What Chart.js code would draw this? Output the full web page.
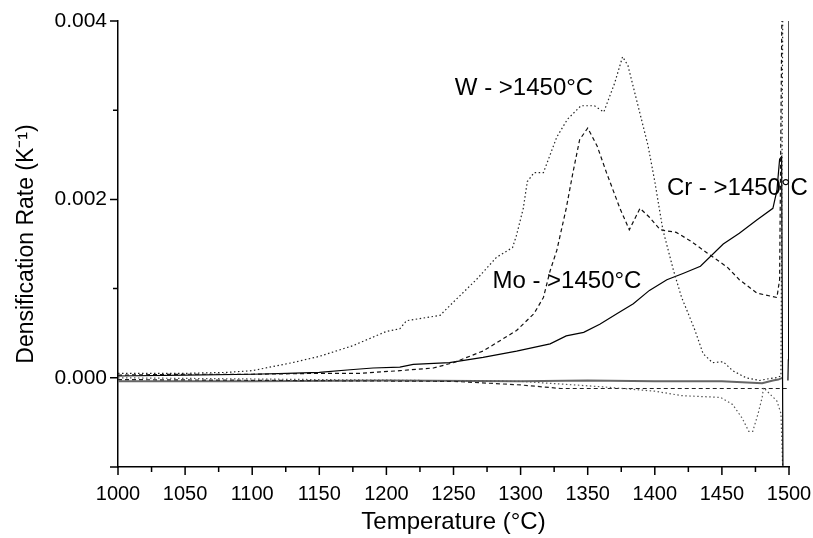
<!DOCTYPE html>
<html>
<head>
<meta charset="utf-8">
<script src="https://cdn.jsdelivr.net/npm/chart.js@4.4.1/dist/chart.umd.min.js"></script>
<style>
  html, body { margin: 0; padding: 0; background: #fff; }
  #wrap { width: 813px; height: 538px; }
</style>
</head>
<body>
<div id="wrap"><canvas id="myChart" width="813" height="538"></canvas></div>
<script>
// axis ticks
const xMajor = [1000, 1050, 1100, 1150, 1200, 1250, 1300, 1350, 1400, 1450, 1500];
const xMinor = [1025, 1075, 1125, 1175, 1225, 1275, 1325, 1375, 1425, 1475];
const yMajor = [-0.001, 0.000, 0.002, 0.004];
const yMinor = [0.001, 0.003];
const yLabelled = [0.000, 0.002, 0.004];

// W - heating curve (dotted)
const wTemp = [1000, 1020, 1050, 1080, 1100, 1130, 1150, 1175, 1200, 1210, 1215, 1240, 1250, 1267, 1282, 1294, 1297,
  1302, 1305, 1310, 1317, 1322, 1327, 1335, 1345, 1355, 1362, 1370, 1376, 1380, 1385, 1390, 1395, 1400, 1406,
  1414, 1420, 1426, 1430, 1436, 1443, 1451, 1458, 1468, 1478, 1485, 1490, 1494, 1495.5];
const wRate = [0.00005, 0.00005, 0.00005, 0.00006, 0.00008, 0.00017, 0.00024, 0.00036, 0.00052, 0.00055, 0.00064,
  0.0007, 0.00085, 0.0011, 0.00135, 0.00146, 0.0016, 0.0019, 0.0022, 0.0023, 0.0023, 0.0025, 0.0027, 0.0029,
  0.00305, 0.00305, 0.00298, 0.0033, 0.0036, 0.0035, 0.0032, 0.0029, 0.0026, 0.0022, 0.00166, 0.0012, 0.0009,
  0.00068, 0.00053, 0.00027, 0.00017, 0.00018, 0.00008, 0.0, -0.00003, -0.00001, 0.0, 0.00002, 0.0046];

// Mo - heating curve (dashed)
const moTemp = [1000, 1050, 1100, 1150, 1180, 1210, 1235, 1250, 1272, 1297, 1310, 1317, 1322, 1327, 1334, 1339, 1344,
  1350, 1357, 1364, 1374, 1381, 1389, 1396, 1404, 1416, 1426, 1439, 1454, 1463, 1476, 1491, 1493, 1495];
const moRate = [0.00003, 0.00004, 0.00004, 0.00005, 0.00005, 0.00008, 0.00011, 0.00017, 0.0003, 0.00053, 0.00072,
  0.0009, 0.0012, 0.00143, 0.0019, 0.0023, 0.00267, 0.0028, 0.0026, 0.0023, 0.0019, 0.00166, 0.0019, 0.0018,
  0.00166, 0.00163, 0.00154, 0.0014, 0.00124, 0.0011, 0.00095, 0.0009, 0.0011, 0.0046];

// Cr - heating curve (solid)
const crTemp = [1000, 1050, 1100, 1126, 1150, 1173, 1190, 1210, 1220, 1247, 1272, 1297, 1322, 1334, 1347, 1359, 1372,
  1384, 1396, 1409, 1421, 1434, 1451, 1463, 1476, 1488, 1491, 1493, 1494.5, 1495.5, 1497, 1499.2, 1499.5, 1499.7, 1500];
const crRate = [0.00002, 0.00003, 0.00004, 0.00005, 0.00006, 0.00009, 0.00011, 0.00012, 0.00015, 0.00017, 0.00023,
  0.0003, 0.00038, 0.00047, 0.00051, 0.0006, 0.00072, 0.00083, 0.00098, 0.0011, 0.00117, 0.00125, 0.0015, 0.00162,
  0.00177, 0.0019, 0.0021, 0.00245, 0.00248, -0.0011, null, -0.00003, 0.0002, 0.0004, 0.0046];

// near-zero curves
const w2Temp = [1000, 1150, 1300, 1340, 1360, 1400, 1420, 1449, 1458, 1465, 1470, 1473, 1477, 1480, 1481, 1485, 1491, 1494, 1495.5];
const w2Rate = [0.0, -0.00002, -0.00004, -0.00008, -0.0001, -0.00015, -0.0002, -0.00022, -0.0003, -0.00045, -0.0006,
  -0.0006, -0.0004, -0.00022, -0.00011, -0.00017, -0.00026, -0.0004, -0.0011];

const mo2Temp = [1000, 1250, 1300, 1330, 1480, 1500];
const mo2Rate = [-0.00002, -0.00004, -0.00008, -0.00012, -0.00012, -0.00012];

const cr2Temp = [1000, 1100, 1200, 1300, 1350, 1400, 1450, 1480, 1488, 1492, 1495];
const cr2Rate = [-0.00004, -0.00004, -0.00003, -0.00004, -0.00003, -0.00004, -0.00004, -0.00006, -0.00003, -0.00002, 0.0];

const notes = [
  { text: 'W - >1450°C', x: 1251, y: 0.00325 },
  { text: 'Cr - >1450°C', x: 1409, y: 0.00212 },
  { text: 'Mo - >1450°C', x: 1279, y: 0.00108 }
];

function pts(xs, ys) {
  return xs.map((x, i) => ({ x: x, y: ys[i] }));
}

const FONT = 'Arial, "Liberation Sans", sans-serif';

const tickMarks = {
  id: 'tickMarks',
  afterDraw(chart) {
    const { ctx, chartArea } = chart;
    const x = chart.scales.x, y = chart.scales.y;
    ctx.save();
    ctx.strokeStyle = '#000';
    ctx.lineWidth = 1.5;
    ctx.beginPath();
    xMajor.forEach(v => { const p = x.getPixelForValue(v); ctx.moveTo(p, chartArea.bottom); ctx.lineTo(p, chartArea.bottom + 8); });
    xMinor.forEach(v => { const p = x.getPixelForValue(v); ctx.moveTo(p, chartArea.bottom); ctx.lineTo(p, chartArea.bottom + 5); });
    yMajor.forEach(v => { const p = y.getPixelForValue(v); ctx.moveTo(chartArea.left, p); ctx.lineTo(chartArea.left - 8, p); });
    yMinor.forEach(v => { const p = y.getPixelForValue(v); ctx.moveTo(chartArea.left, p); ctx.lineTo(chartArea.left - 5, p); });
    ctx.stroke();

    // curve labels
    ctx.fillStyle = '#000';
    ctx.font = '24px ' + FONT;
    ctx.textBaseline = 'middle';
    ctx.textAlign = 'left';
    notes.forEach(n => ctx.fillText(n.text, x.getPixelForValue(n.x), y.getPixelForValue(n.y)));
    ctx.restore();
  }
};

const base = { borderWidth: 1.2, pointRadius: 0, tension: 0, fill: false, spanGaps: false };

new Chart(document.getElementById('myChart'), {
  type: 'line',
  data: {
    datasets: [
      { ...base, label: 'W', data: pts(wTemp, wRate), borderColor: '#222', borderDash: [1.5, 2.5] },
      { ...base, label: 'Mo', data: pts(moTemp, moRate), borderColor: '#111', borderDash: [4, 3] },
      { ...base, label: 'Cr', data: pts(crTemp, crRate), borderColor: '#000' },
      { ...base, label: 'W2', data: pts(w2Temp, w2Rate), borderColor: '#555', borderDash: [1.5, 2.5] },
      { ...base, label: 'Mo2', data: pts(mo2Temp, mo2Rate), borderColor: '#222', borderDash: [4, 3] },
      { ...base, label: 'Cr2', data: pts(cr2Temp, cr2Rate), borderColor: '#666', borderWidth: 2 }
    ]
  },
  options: {
    responsive: false,
    maintainAspectRatio: false,
    animation: false,
    layout: { padding: { top: 21, right: 24, left: 0, bottom: 0 } },
    plugins: { legend: { display: false }, tooltip: { enabled: false } },
    scales: {
      x: {
        type: 'linear',
        min: 1000,
        max: 1500,
        afterBuildTicks: s => { s.ticks = xMajor.map(v => ({ value: v })); },
        afterFit: s => { s.height = 71; s.paddingLeft = 0; s.paddingRight = 0; },
        grid: { display: false, drawTicks: false },
        border: { color: '#000', width: 1.5 },
        ticks: {
          color: '#000',
          padding: 15,
          maxRotation: 0,
          autoSkip: false,
          font: { family: FONT, size: 20 },
          callback: v => String(v)
        },
        title: {
          display: true,
          text: 'Temperature (°C)',
          color: '#000',
          padding: { top: 0, bottom: 1 },
          font: { family: FONT, size: 24 }
        }
      },
      y: {
        min: -0.001,
        max: 0.004,
        afterBuildTicks: s => { s.ticks = yLabelled.map(v => ({ value: v })); },
        afterFit: s => { s.width = 118; s.paddingTop = 0; s.paddingBottom = 0; },
        grid: { display: false, drawTicks: false },
        border: { color: '#000', width: 1.5 },
        ticks: {
          color: '#000',
          padding: 11,
          font: { family: FONT, size: 21 },
          callback: v => v.toFixed(3)
        },
        title: {
          display: true,
          text: 'Densification Rate (K⁻¹)',
          color: '#000',
          padding: { top: 13, bottom: 0 },
          font: { family: FONT, size: 23 }
        }
      }
    }
  },
  plugins: [tickMarks]
});
</script>
</body>
</html>
